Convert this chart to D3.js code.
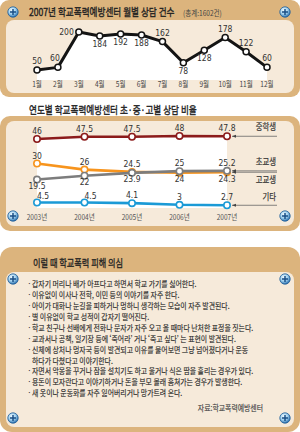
<!DOCTYPE html>
<html>
<head>
<meta charset="utf-8">
<script src="https://cdn.jsdelivr.net/npm/d3@7"></script>
<style>
body { margin: 0; background: #fff; }
svg { display: block; }
</style>
</head>
<body>
<div id="chart"></div>
<script>
// monthly counts, 2007
var months = ["1월", "2월", "3월", "4월", "5월", "6월", "7월", "8월", "9월", "10월", "11월", "12월"];
var monthCounts = [50, 60, 200, 184, 192, 188, 162, 78, 128, 178, 122, 60];

// yearly share by school level (%)
var years = ["2003년", "2004년", "2005년", "2006년", "2007년"];
var middleSchool = [46, 47.5, 47.5, 48, 47.8];
var elementary = [30, 26, 24.5, 24, 24.3];
var highSchool = [19.5, 22, 23.9, 25, 25.2];
var others = [4.5, 4.5, 4.1, 3, 2.7];

var tips = [
  ["갑자기 머리나 배가 아프다고 하면서 학교 가기를 싫어한다."],
  ["이유없이 이사나 전학, 이민 등의 이야기를 자주 한다."],
  ["아이가 대화나 눈길을 피하거나 멍하니 생각하는 모습이 자주 발견된다."],
  ["별 이유없이 학교 성적이 갑자기 떨어진다."],
  ["학교 친구나 선배에게 전화나 문자가 자주 오고 올 때마다 난처한 표정을 짓는다."],
  ["교과서나 공책, 일기장 등에 ‘죽어라’ 거나 ‘죽고 싶다’ 는 표현이 발견된다."],
  ["신체에 상처나 멍자국 등이 발견되고 이유를 물어보면 그냥 넘어졌다거나 운동", "하다가 다쳤다고 이야기한다."],
  ["자면서 악몽을 꾸거나 잠을 설치기도 하고 울거나 식은 땀을 흘리는 경우가 있다."],
  ["용돈이 모자란다고 이야기하거나 돈을 부모 몰래 훔쳐가는 경우가 발생한다."],
  ["새 옷이나 운동화를 자주 잃어버리거나 망가트려 온다."]
];

// label placement for the monthly chart
var monthLabelSide = ["above", "aboveLeft", "left", "below", "below", "below", "above", "below", "below", "above", "above", "above"];

var tan = "#dcb47d", beige = "#f6eada";
var numFont = "'Liberation Sans Narrow', 'DejaVu Sans Condensed', sans-serif";

var svg = d3.select("#chart").append("svg")
    .attr("width", 300)
    .attr("height", 432);

var defs = svg.append("defs");
var grad = defs.append("radialGradient").attr("id", "screwGrad")
    .attr("cx", "40%").attr("cy", "35%").attr("r", "65%");
grad.append("stop").attr("offset", "0%").attr("stop-color", "#f4fbff");
grad.append("stop").attr("offset", "55%").attr("stop-color", "#9fd0ee");
grad.append("stop").attr("offset", "100%").attr("stop-color", "#2b6fad");

function ktext(sel, x, y, str, size, anchor, fill, sx, bold) {
  var t = sel.append("text")
      .attr("transform", "translate(" + x + "," + y + ") scale(" + (sx || 0.82) + ",1)")
      .attr("text-anchor", anchor || "start")
      .style("font-family", "'Noto Sans CJK KR', sans-serif")
      .style("font-size", size + "px")
      .style("fill", fill || "#333")
      .text(str);
  if (bold) t.style("stroke", fill || "#333").style("stroke-width", bold);
  return t;
}

function screw(x, y) {
  var g = svg.append("g").attr("transform", "translate(" + x + "," + y + ")");
  g.append("circle").attr("r", 5.2).style("fill", "url(#screwGrad)").style("stroke", "#1f5d97").style("stroke-width", 0.8);
  g.append("path").attr("d", "M-3,0H3M0,-3V3").style("stroke", "#1a4f86").style("stroke-width", 1.5);
}

// ---------- panel 1 ----------
svg.append("rect").attr("x", 0).attr("y", 0).attr("width", 300).attr("height", 97).attr("rx", 9).style("fill", tan);
svg.append("rect").attr("x", 6).attr("y", 20).attr("width", 288).attr("height", 73).attr("rx", 8).style("fill", beige);
screw(13, 12);
screw(285, 12);
ktext(svg, 29, 16, "2007년 학교폭력예방센터 월별 상담 건수", 10.5, "start", "#222", 0.82, 0.35);
ktext(svg, 183, 15.5, "(총계:1602건)", 8, "start", "#444");

var x1 = d3.scalePoint().domain(months).range([37, 267]);
var y1 = d3.scaleLinear().domain([10, 200]).range([80, 32]);

var c1 = svg.append("g");
c1.append("path")
    .datum(monthCounts)
    .attr("d", d3.area().x(function (d, i) { return x1(months[i]); }).y0(y1(10)).y1(function (d) { return y1(d); }))
    .style("fill", "#fff");
c1.append("path")
    .datum(monthCounts)
    .attr("d", d3.line().x(function (d, i) { return x1(months[i]); }).y(function (d) { return y1(d); }))
    .style("fill", "none").style("stroke", "#141414").style("stroke-width", 3).style("stroke-linejoin", "round");
c1.selectAll("circle").data(monthCounts).enter().append("circle")
    .attr("cx", function (d, i) { return x1(months[i]); })
    .attr("cy", function (d) { return y1(d); })
    .attr("r", 3)
    .style("fill", "#fff").style("stroke", "#141414").style("stroke-width", 1.5);
c1.selectAll(".val").data(monthCounts).enter().append("text")
    .attr("x", function (d, i) {
      var s = monthLabelSide[i], x = x1(months[i]);
      return s === "left" ? x - 5 : s === "aboveLeft" ? x - 3 : x;
    })
    .attr("y", function (d, i) {
      var s = monthLabelSide[i], y = y1(d);
      return s === "below" ? y + 11 : s === "left" ? y + 3 : y - 6;
    })
    .attr("text-anchor", function (d, i) { return monthLabelSide[i] === "left" ? "end" : "middle"; })
    .style("font-family", numFont).style("font-size", "8.5px").style("fill", "#333")
    .text(function (d) { return d; });
months.forEach(function (m) { ktext(c1, x1(m), 87, m, 8, "middle", "#444"); });

// ---------- panel 2 ----------
ktext(svg, 29, 114, "연도별 학교폭력예방센터 초·중·고별 상담 비율", 10.5, "start", "#222", 0.82, 0.35);
svg.append("rect").attr("x", 0).attr("y", 116).attr("width", 300).attr("height", 115).attr("rx", 10).style("fill", tan);
svg.append("rect").attr("x", 6).attr("y", 121).attr("width", 288).attr("height", 105).attr("rx", 8).style("fill", beige);
screw(13, 216);
screw(285, 216);

var x2 = d3.scalePoint().domain(years).range([37, 227]);
var y2 = d3.scaleLinear().domain([0, 50]).range([209.4, 132.9]);

var series = [
  { name: "기타", values: others, color: "#1b9ad6", sides: ["aboveRight", "aboveRight", "above", "above", "above"] },
  { name: "초교생", values: elementary, color: "#f7941d", sides: ["above", "above", "above", "below", "below"] },
  { name: "고교생", values: highSchool, color: "#7d7d7d", sides: ["below", "below", "below", "above", "above"] },
  { name: "중학생", values: middleSchool, color: "#8c1b1b", sides: ["above", "above", "above", "above", "above"] }
];

var c2 = svg.append("g");
c2.append("path")
    .datum(middleSchool)
    .attr("d", d3.area().x(function (d, i) { return x2(years[i]); }).y0(y2(0) - 1.5).y1(function (d) { return y2(d); }))
    .style("fill", "#fff");

var line2 = d3.line().x(function (d, i) { return x2(years[i]); }).y(function (d) { return y2(d); });
series.forEach(function (s) {
  c2.append("path").datum(s.values).attr("d", line2)
      .style("fill", "none").style("stroke", s.color).style("stroke-width", 2.6);
  c2.selectAll(null).data(s.values).enter().append("circle")
      .attr("cx", function (d, i) { return x2(years[i]); })
      .attr("cy", function (d) { return y2(d); })
      .attr("r", 3.2)
      .style("fill", "#fff").style("stroke", s.color).style("stroke-width", 1.6);
  c2.selectAll(null).data(s.values).enter().append("text")
      .attr("x", function (d, i) { return x2(years[i]) + (s.sides[i] === "aboveRight" ? 6 : 0); })
      .attr("y", function (d, i) {
        var sd = s.sides[i];
        return sd === "below" ? y2(d) + 9.5 : sd === "aboveRight" ? y2(d) - 3.5 : y2(d) - 5;
      })
      .attr("text-anchor", "middle")
      .style("font-family", numFont).style("font-size", "8.5px").style("fill", "#333")
      .text(function (d) { return d; });
});

// legend labels with leader arrows
var legendRows = [
  { name: "중학생", values: middleSchool, dy: -6 },
  { name: "초교생", values: highSchool, dy: -6 },
  { name: "고교생", values: elementary, dy: 11 },
  { name: "기타", values: others, dy: -5 }
];
legendRows.forEach(function (r) {
  var ly = y2(r.values[r.values.length - 1]);
  var lx = x2(years[years.length - 1]) + 5;
  c2.append("path").attr("d", "M" + lx + "," + ly + "H277").style("stroke", "#666").style("stroke-width", 0.8);
  c2.append("path").attr("d", "M" + lx + "," + ly + "l4,-1.6v3.2z").style("fill", "#444");
  ktext(c2, 276, ly + r.dy, r.name, 9, "end", "#333", 0.82, 0.2);
});

years.forEach(function (yv) { ktext(c2, x2(yv), 220, yv, 8, "middle", "#555"); });

// ---------- panel 3 ----------
svg.append("rect").attr("x", 0).attr("y", 247).attr("width", 300).attr("height", 185).attr("rx", 12).style("fill", tan);
svg.append("rect").attr("x", 6).attr("y", 272).attr("width", 288).attr("height", 155).attr("rx", 8).style("fill", beige);
ktext(svg, 33, 267, "이럴 때 학교폭력 피해 의심", 10, "start", "#222", 0.82, 0.3);
screw(13, 279);
screw(285, 279);
screw(13, 418);
screw(285, 418);

var row = 0;
tips.forEach(function (t) {
  t.forEach(function (ln, j) {
    var yy = 287 + row * 10.93;
    if (j === 0) ktext(svg, 27, yy, "·", 8.5, "start", "#333", 1);
    ktext(svg, 32, yy, ln, 8.5, "start", "#2a2a2a", 0.81, 0.15);
    row++;
  });
});
ktext(svg, 263, 411, "자료:학교폭력예방센터", 8.5, "end", "#444", 0.81, 0.15);
</script>
</body>
</html>
